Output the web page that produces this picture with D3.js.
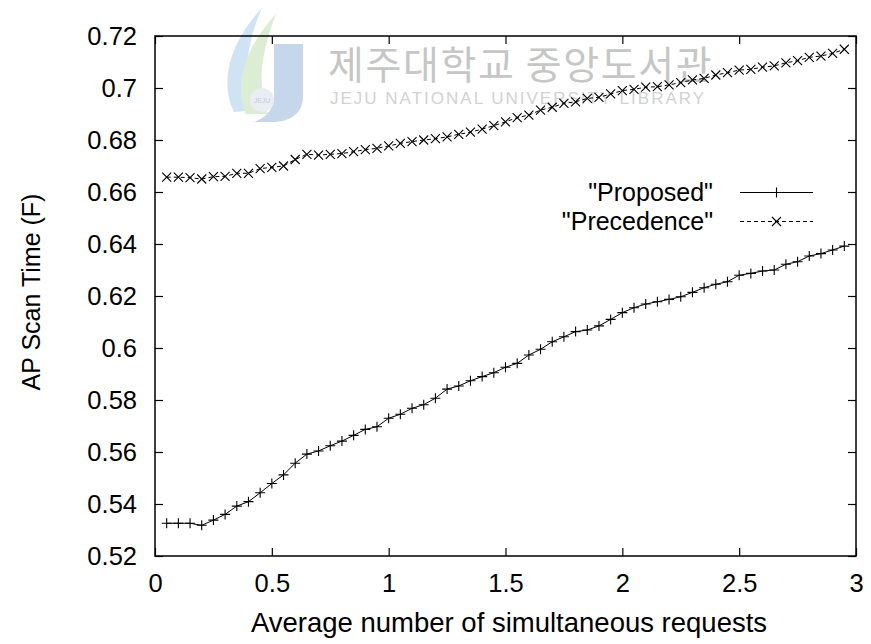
<!DOCTYPE html>
<html lang="en">
<head>
  <meta charset="UTF-8" />
  <title>AP Scan Time</title>
  <script src="https://d3js.org/d3.v7.min.js"></script>
  <style>
    body { margin: 0; background: #fff; }
    text { font-family: "Liberation Sans", Arial, sans-serif; }
  </style>
</head>
<body>
  <div id="chart"></div>
  <script>
    // average number of simultaneous requests
    const xValues = [0.05, 0.1, 0.15, 0.2, 0.25, 0.3, 0.35, 0.4, 0.45, 0.5,
      0.55, 0.6, 0.65, 0.7, 0.75, 0.8, 0.85, 0.9, 0.95, 1.0,
      1.05, 1.1, 1.15, 1.2, 1.25, 1.3, 1.35, 1.4, 1.45, 1.5,
      1.55, 1.6, 1.65, 1.7, 1.75, 1.8, 1.85, 1.9, 1.95, 2.0,
      2.05, 2.1, 2.15, 2.2, 2.25, 2.3, 2.35, 2.4, 2.45, 2.5,
      2.55, 2.6, 2.65, 2.7, 2.75, 2.8, 2.85, 2.9, 2.95];

    const proposed = [0.5326, 0.5326, 0.5326, 0.5318, 0.5338, 0.5360, 0.5392, 0.5409, 0.5443, 0.5479,
      0.5512, 0.5557, 0.5592, 0.5604, 0.5624, 0.5642, 0.5664, 0.5687, 0.5697, 0.5730,
      0.5745, 0.5768, 0.5782, 0.5807, 0.5842, 0.5854, 0.5874, 0.5890, 0.5905, 0.5926,
      0.5941, 0.5973, 0.5995, 0.6024, 0.6043, 0.6063, 0.6069, 0.6085, 0.6110, 0.6136,
      0.6155, 0.6169, 0.6178, 0.6187, 0.6197, 0.6214, 0.6232, 0.6245, 0.6255, 0.6280,
      0.6287, 0.6296, 0.6300, 0.6322, 0.6332, 0.6354, 0.6363, 0.6377, 0.6392];

    const precedence = [0.6657, 0.6657, 0.6655, 0.6650, 0.6659, 0.6660, 0.6672, 0.6672, 0.6690, 0.6695,
      0.6700, 0.6725, 0.6745, 0.6742, 0.6745, 0.6748, 0.6755, 0.6763, 0.6768, 0.6777,
      0.6787, 0.6794, 0.6800, 0.6805, 0.6812, 0.6822, 0.6830, 0.6842, 0.6855, 0.6870,
      0.6886, 0.6896, 0.6915, 0.6926, 0.6941, 0.6947, 0.6960, 0.6964, 0.6977, 0.6990,
      0.6995, 0.7003, 0.7005, 0.7012, 0.7021, 0.7031, 0.7037, 0.7050, 0.7059, 0.7069,
      0.7072, 0.7080, 0.7085, 0.7097, 0.7105, 0.7118, 0.7123, 0.7133, 0.7149];

    const xTicks = [0, 0.5, 1, 1.5, 2, 2.5, 3];
    const yTicks = [0.52, 0.54, 0.56, 0.58, 0.6, 0.62, 0.64, 0.66, 0.68, 0.7, 0.72];
    const seriesNames = ['"Proposed"', '"Precedence"'];

    const W = 871, H = 644;
    const pLeft = 155, pRight = 856, pTop = 36, pBottom = 556;

    const svg = d3.select("#chart").append("svg").attr("width", W).attr("height", H);

    const x = d3.scaleLinear().domain([0, 3]).range([pLeft, pRight]);
    const y = d3.scaleLinear().domain([0.52, 0.72]).range([pBottom, pTop]);

    // watermark (library logo + name), drawn faint behind the plot
    const wm = svg.append("g").attr("opacity", 0.5);
    wm.append("path")
      .attr("d", "M234,112 C218,80 232,40 262,8 C246,44 242,80 256,110 Z")
      .attr("fill", "#9fc9e8");
    wm.append("path")
      .attr("d", "M246,114 C232,82 248,44 276,14 C262,50 256,84 268,114 Z")
      .attr("fill", "#b9dca9");
    wm.append("path")
      .attr("d", "M274,44 L303,44 L303,96 C303,114 290,122 272,122 L254,122 C270,116 274,106 274,94 Z")
      .attr("fill", "#8fb0d8");
    wm.append("circle").attr("cx", 262).attr("cy", 100).attr("r", 12).attr("fill", "#d6dde8");
    wm.append("text").attr("x", 262).attr("y", 103).attr("text-anchor", "middle")
      .style("font-size", "7px").style("fill", "#8a95a8").text("JEJU");
    svg.append("text").attr("x", 328).attr("y", 79)
      .style("font-family", "'Noto Sans CJK KR', sans-serif")
      .style("font-size", "39px").style("letter-spacing", "1.6px").style("fill", "#c6c6c6")
      .text("제주대학교 중앙도서관");
    svg.append("text").attr("x", 330).attr("y", 104)
      .style("font-size", "17px").style("letter-spacing", "2px").style("fill", "#d2d2d2")
      .text("JEJU NATIONAL UNIVERSITY LIBRARY");

    // axes with inward ticks on all four sides
    const tickLen = 8;
    svg.append("g").attr("transform", `translate(0,${pBottom})`)
      .call(d3.axisBottom(x).tickValues(xTicks).tickSize(-tickLen).tickPadding(18).tickFormat(d => String(d)));
    svg.append("g").attr("transform", `translate(${pLeft},0)`)
      .call(d3.axisLeft(y).tickValues(yTicks).tickSize(-tickLen).tickPadding(18).tickFormat(d => String(d)));
    svg.append("g").attr("transform", `translate(0,${pTop})`)
      .call(d3.axisTop(x).tickValues(xTicks).tickSize(-tickLen).tickFormat(""));
    svg.append("g").attr("transform", `translate(${pRight},0)`)
      .call(d3.axisRight(y).tickValues(yTicks).tickSize(-tickLen).tickFormat(""));

    svg.selectAll(".domain").remove();
    svg.selectAll(".tick line").attr("stroke", "#000").attr("stroke-width", 1.2);
    svg.selectAll(".tick text").style("font-size", "25.5px").style("fill", "#000")
      .style("font-family", "'Liberation Sans', Arial, sans-serif");

    svg.append("rect").attr("x", pLeft).attr("y", pTop)
      .attr("width", pRight - pLeft).attr("height", pBottom - pTop)
      .attr("fill", "none").attr("stroke", "#000").attr("stroke-width", 1.5);

    // axis titles
    svg.append("text").attr("x", 509).attr("y", 632)
      .attr("text-anchor", "middle").style("font-size", "27.5px").style("fill", "#000")
      .text("Average number of simultaneous requests");
    svg.append("text").attr("transform", "translate(40,292) rotate(-90)")
      .attr("text-anchor", "middle").style("font-size", "25px").style("fill", "#000")
      .text("AP Scan Time (F)");

    const plus = (g, cx, cy, s) => g.append("path")
      .attr("d", `M${cx - s},${cy}H${cx + s}M${cx},${cy - s}V${cy + s}`)
      .attr("stroke", "#000").attr("stroke-width", 1.1).attr("fill", "none");
    const cross = (g, cx, cy, s) => g.append("path")
      .attr("d", `M${cx - s},${cy - s}L${cx + s},${cy + s}M${cx - s},${cy + s}L${cx + s},${cy - s}`)
      .attr("stroke", "#000").attr("stroke-width", 1.1).attr("fill", "none");

    const line = d3.line().x(d => x(d[0])).y(d => y(d[1]));
    const propPts = xValues.map((v, i) => [v, proposed[i]]);
    const precPts = xValues.map((v, i) => [v, precedence[i]]);

    const plot = svg.append("g");
    plot.append("path").datum(propPts).attr("d", line)
      .attr("fill", "none").attr("stroke", "#000").attr("stroke-width", 1);
    plot.append("path").datum(precPts).attr("d", line)
      .attr("fill", "none").attr("stroke", "#000").attr("stroke-width", 1).attr("stroke-dasharray", "4,3");
    propPts.forEach(d => plus(plot, x(d[0]), y(d[1]), 5));
    precPts.forEach(d => cross(plot, x(d[0]), y(d[1]), 4.5));

    // legend
    const legend = svg.append("g");
    const rows = [192.5, 221.5];
    seriesNames.forEach((name, i) => {
      legend.append("text").attr("x", 713).attr("y", rows[i]).attr("dy", "0.35em")
        .attr("text-anchor", "end").style("font-size", "25px").style("fill", "#000").text(name);
      legend.append("line").attr("x1", 740).attr("x2", 813).attr("y1", rows[i]).attr("y2", rows[i])
        .attr("stroke", "#000").attr("stroke-width", 1)
        .attr("stroke-dasharray", i === 0 ? null : "4,3");
      if (i === 0) plus(legend, 776.5, rows[i], 5);
      else cross(legend, 776.5, rows[i], 4.5);
    });
  </script>
</body>
</html>
